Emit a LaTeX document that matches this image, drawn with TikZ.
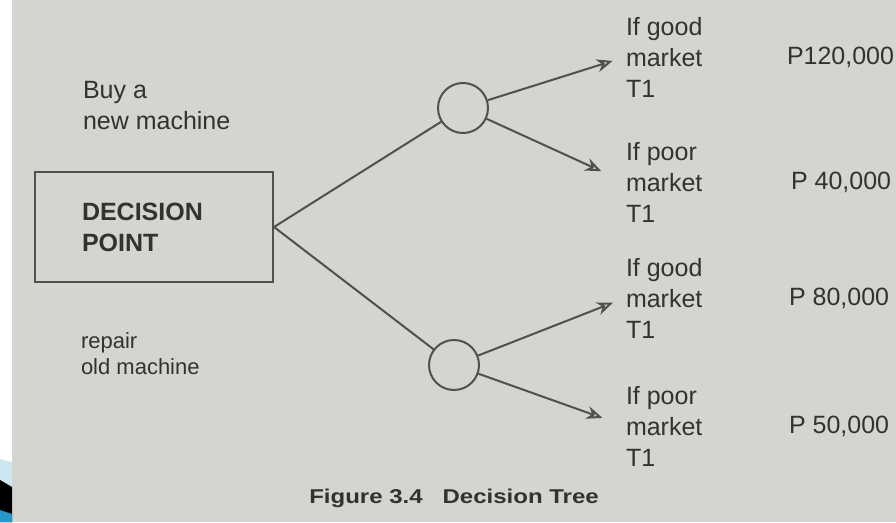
\documentclass[tikz,border=0pt]{standalone}
\usepackage{fontspec}
\setmainfont{Liberation Sans}
\newfontfamily\capfont{Liberation Sans}[FakeStretch=1.2]
\usepackage{tikz}
\usetikzlibrary{arrows.meta}
\definecolor{page}{RGB}{213,212,206}
\definecolor{ink}{RGB}{50,50,50}
\definecolor{wire}{RGB}{80,80,80}
\definecolor{skyband}{RGB}{205,230,240}
\definecolor{seaband}{RGB}{40,150,200}

\begin{document}
\begin{tikzpicture}[x=1pt,y=-1pt,>={Stealth[open,length=16pt,width=13pt]},
                    line width=2pt]
  \tikzstyle{txt} = [inner sep=0pt, align=left, text=ink,
    font=\fontsize{25}{31}\selectfont]
  \tikzstyle{small txt} = [txt, font=\fontsize{22}{26}\selectfont]
  \tikzstyle{decision} = [rectangle, draw=wire, text=ink, align=left,
    minimum height=110, text width=144, inner xsep=47,
    font=\fontsize{25}{31}\selectfont\bfseries]
  \tikzstyle{chance} = [circle, draw=wire, minimum size=50, inner sep=0pt]
  \tikzstyle{branch} = [draw=wire, ->, shorten >=13pt]

  % page and corner
  \useasboundingbox (0,0) rectangle (896,522);
  \fill[white] (0,0) rectangle (12,522);
  \fill[page] (12,0) rectangle (896,522);
  \fill[skyband] (0,459) -- (12,462) -- (12,522) -- (0,522) -- cycle;
  \fill[black] (0,480) -- (12,487) -- (12,522) -- (0,522) -- cycle;
  \fill[seaband] (0,510) -- (12,514) -- (12,522) -- (0,522) -- cycle;

  \node[decision] (dp) at (154,227) {DECISION\\POINT};
  \node[chance]   (c1) at (463,108) {};
  \node[chance]   (c2) at (454,365) {};

  \node[txt,anchor=west]       (buy) at (82,106) {Buy a\\new machine};
  \node[small txt,anchor=west] (rep) at (80,354) {repair\\old machine};

  \node[txt,anchor=west] (o1) at (625,57)  {If good\\market\\T1};
  \node[txt,anchor=west] (o2) at (625,182) {If poor\\market\\T1};
  \node[txt,anchor=west] (o3) at (625,298) {If good\\market\\T1};
  \node[txt,anchor=west] (o4) at (625,426) {If poor\\market\\T1};

  \node[txt,anchor=west] (v1) at (786,57)  {P120,000};
  \node[txt,anchor=west] (v2) at (790,182) {P 40,000};
  \node[txt,anchor=west] (v3) at (788,298) {P 80,000};
  \node[txt,anchor=west] (v4) at (788,426) {P 50,000};

  \node[text=ink, inner sep=0pt, font=\capfont\fontsize{20}{24}\selectfont\bfseries]
    (cap) at (454,498) {Figure 3.4\quad Decision Tree};

  \draw[wire] (dp.east) -- (c1)
              (dp.east) -- (c2);
  \draw[branch] (c1) -- (o1.west);
  \draw[branch,shorten >=26pt] (c1) -- (o2.west);
  \draw[branch] (c2) -- (o3.west);
  \draw[branch,shorten >=24pt] (c2) -- (o4.west);
\end{tikzpicture}
\end{document}
